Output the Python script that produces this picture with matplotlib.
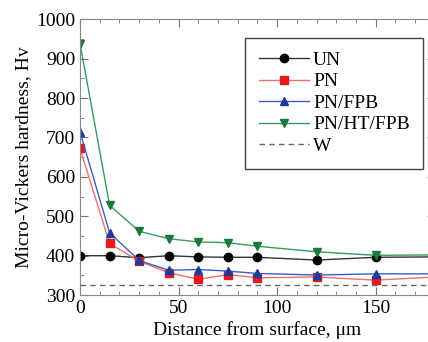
import matplotlib
matplotlib.use("Agg")
from matplotlib import pyplot as plt
import numpy as np

dist = [0, 15, 30, 45, 60, 75, 90, 120, 150, 180]
un = [400, 400, 395, 400, 397, 396, 396, 389, 396, 397]
pn = [672, 431, 386, 357, 340, 352, 344, 346, 338, 346]
pn_fpb = [714, 458, 388, 363, 365, 361, 355, 351, 354, 354]
pn_ht_fpb = [938, 528, 462, 443, 435, 433, 424, 410, 401, 402]
w_level = 325

plt.rcParams['font.family'] = ['Liberation Serif', 'DejaVu Serif']
plt.rcParams['mathtext.fontset'] = 'stix'

fig = plt.figure(figsize=(4.28, 3.42), dpi=100)
ax = fig.add_axes([0.187, 0.137, 0.829, 0.807])

ax.plot(dist, un, color='#333333', lw=1.0, marker='o', ms=6,
        mfc='black', mec='black', label='UN')
ax.plot(dist, pn, color='#f07070', lw=1.0, marker='s', ms=5.5,
        mfc='#e41a1c', mec='#e41a1c', label='PN')
ax.plot(dist, pn_fpb, color='#3a5fc0', lw=1.0, marker='^', ms=6,
        mfc='#1a3c9a', mec='#1a3c9a', label='PN/FPB')
ax.plot(dist, pn_ht_fpb, color='#3a9a5a', lw=1.0, marker='v', ms=6,
        mfc='#1a7a3a', mec='#1a7a3a', label='PN/HT/FPB')
ax.axhline(w_level, color='#666666', lw=1.0, ls=(0, (4, 3)), label='W')

ax.set_xlim(0, 180)
ax.set_ylim(300, 1000)
ax.xaxis.set_major_locator(plt.MultipleLocator(50))
ax.xaxis.set_minor_locator(plt.MultipleLocator(10))
ax.yaxis.set_major_locator(plt.MultipleLocator(100))
ax.yaxis.set_minor_locator(plt.MultipleLocator(50))
ax.tick_params(which='both', direction='in', top=True, right=True,
               color='#777777', labelsize=14)
ax.tick_params(which='major', length=6)
ax.tick_params(which='minor', length=3)
for s in ax.spines.values():
    s.set_color('#888888')

ax.set_xlabel('Distance from surface, μm', fontsize=14, labelpad=3)
ax.set_ylabel('Micro-Vickers hardness, Hv', fontsize=14, labelpad=3)

leg = ax.legend(loc='upper right', bbox_to_anchor=(0.995, 0.968),
                fontsize=14, fancybox=False, framealpha=1,
                edgecolor='#444444', handlelength=2.6, labelspacing=0.2,
                borderpad=0.7, handletextpad=0.2)
leg.get_frame().set_linewidth(1.0)

fig.savefig('out.png', dpi=100)
